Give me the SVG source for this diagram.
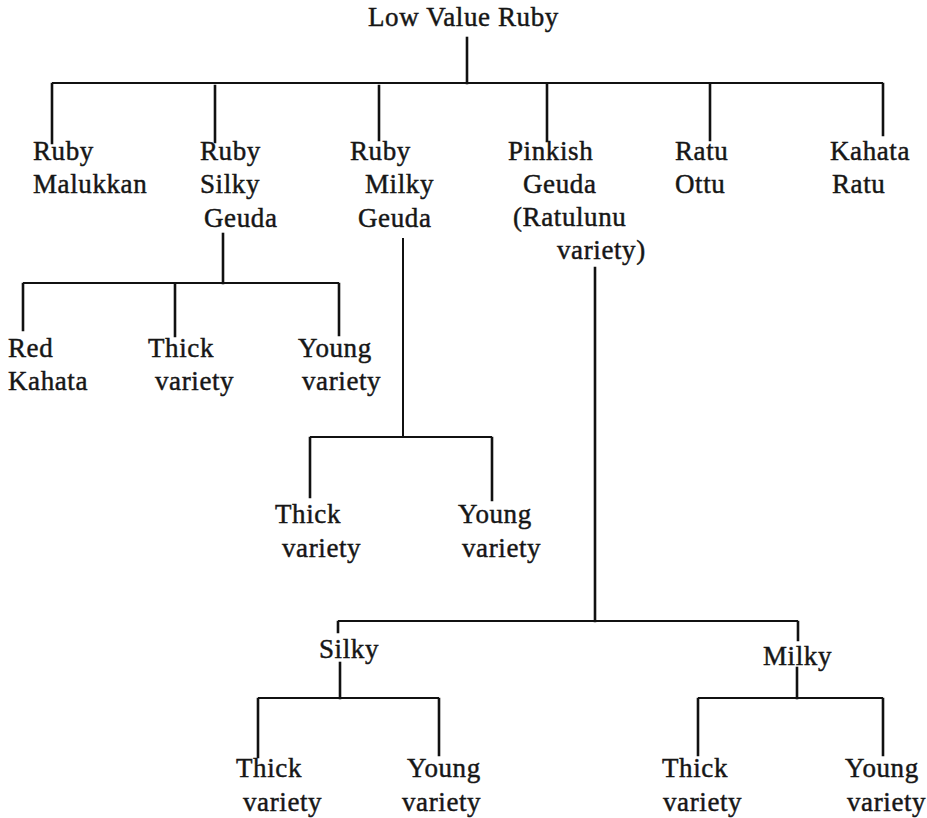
<svg xmlns="http://www.w3.org/2000/svg" width="927" height="818" viewBox="0 0 927 818">
  <style>
    text { font-family: "Liberation Serif", "Times New Roman", serif; font-size: 27px; fill: #161616; stroke: #161616; stroke-width: 0.45; letter-spacing: 0.6px; }
    .link { stroke: #111; stroke-width: 2.6; fill: none; stroke-linecap: square; }
    .bar { stroke: #111; stroke-width: 2; fill: none; }
  </style>
  <rect width="927" height="818" fill="#fff"/>

  <g id="connectors">
    <!-- root to first level -->
    <path class="link" d="M467,38 V83"/>
    <path class="bar" d="M52,83 H883"/>
    <path class="link" d="M52,84 V143 M215,86 V142 M379,86 V140 M547,84 V141 M710,84 V140 M883,84 V135"/>
    <!-- Ruby Silky Geuda -->
    <path class="link" d="M223,234 V283"/>
    <path class="bar" d="M23,283 H339"/>
    <path class="link" d="M23,284 V330 M175,284 V336 M339,284 V335"/>
    <!-- Ruby Milky Geuda -->
    <path class="bar" d="M403,238 V437"/>
    <path class="bar" d="M310,437 H492"/>
    <path class="link" d="M310,438 V497 M492,438 V500"/>
    <!-- Pinkish Geuda -->
    <path class="link" d="M595,268 V621"/>
    <path class="bar" d="M338,621 H798"/>
    <path class="link" d="M338,622 V632 M798,622 V640"/>
    <!-- Silky -->
    <path class="link" d="M340,663 V698"/>
    <path class="bar" d="M258,698 H439"/>
    <path class="link" d="M258,699 V757 M439,699 V755"/>
    <!-- Milky -->
    <path class="link" d="M797,668 V698"/>
    <path class="bar" d="M698,698 H883"/>
    <path class="link" d="M698,699 V755 M883,699 V755"/>
  </g>

  <g id="root"><text x="368" y="26">Low Value Ruby</text></g>

  <g id="ruby-malukkan"><text x="33" y="160">Ruby</text><text x="33" y="193">Malukkan</text></g>
  <g id="ruby-silky-geuda"><text x="200" y="160">Ruby</text><text x="200" y="193">Silky</text><text x="204" y="227">Geuda</text></g>
  <g id="ruby-milky-geuda"><text x="350" y="160">Ruby</text><text x="365" y="193">Milky</text><text x="358" y="227">Geuda</text></g>
  <g id="pinkish-geuda"><text x="508" y="160">Pinkish</text><text x="523" y="193">Geuda</text><text x="513" y="226">(Ratulunu</text><text x="557" y="259">variety)</text></g>
  <g id="ratu-ottu"><text x="675" y="160">Ratu</text><text x="675" y="193">Ottu</text></g>
  <g id="kahata-ratu"><text x="830" y="160">Kahata</text><text x="832" y="193">Ratu</text></g>

  <g id="red-kahata"><text x="8" y="357">Red</text><text x="8" y="390">Kahata</text></g>
  <g id="silky-geuda-thick"><text x="148" y="357">Thick</text><text x="155" y="390">variety</text></g>
  <g id="silky-geuda-young"><text x="298" y="357">Young</text><text x="302" y="390">variety</text></g>

  <g id="milky-geuda-thick"><text x="275" y="523">Thick</text><text x="282" y="557">variety</text></g>
  <g id="milky-geuda-young"><text x="458" y="523">Young</text><text x="462" y="557">variety</text></g>

  <g id="silky"><text x="319" y="658">Silky</text></g>
  <g id="milky"><text x="763" y="665">Milky</text></g>

  <g id="silky-thick"><text x="236" y="777">Thick</text><text x="243" y="811">variety</text></g>
  <g id="silky-young"><text x="407" y="777">Young</text><text x="402" y="811">variety</text></g>
  <g id="milky-thick"><text x="662" y="777">Thick</text><text x="663" y="811">variety</text></g>
  <g id="milky-young"><text x="845" y="777">Young</text><text x="847" y="811">variety</text></g>
</svg>
